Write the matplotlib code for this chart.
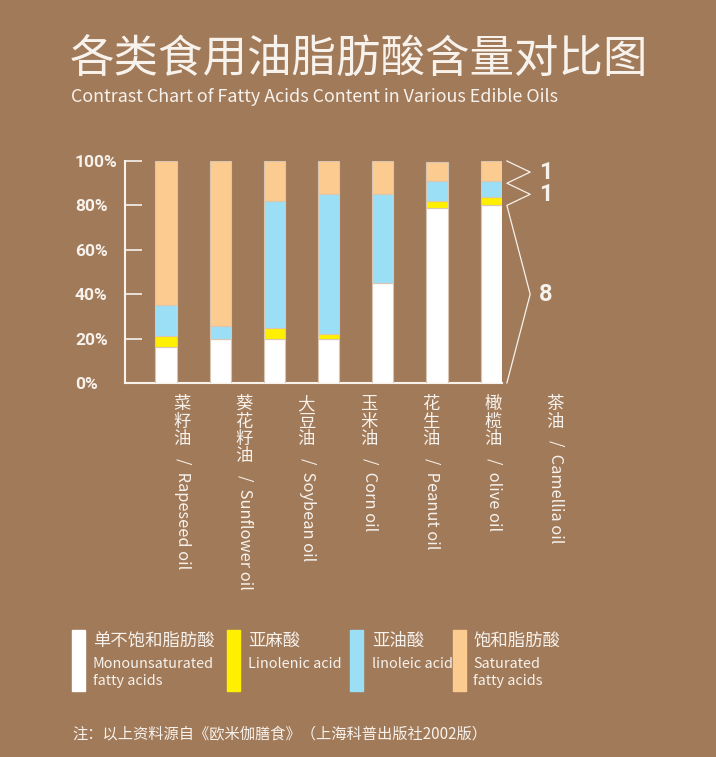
import numpy as np
import matplotlib
matplotlib.use("Agg")
import matplotlib.pyplot as plt
from matplotlib.patches import Rectangle

# data (percent)
oils_cn = ["菜籽油", "葵花籽油", "大豆油", "玉米油", "花生油", "橄榄油", "茶油"]
oils_en = ["Rapeseed oil", "Sunflower oil", "Soybean oil", "Corn oil",
           "Peanut oil", "olive oil", "Camellia oil"]
mono = [16, 20, 20, 20, 45, 79, 80]
linolenic = [5, 0, 5, 2, 0, 3, 4]
linoleic = [14, 5.5, 57, 63, 40, 9, 7]
saturated = [65, 74.5, 18, 15, 15, 8.5, 9]

series_cn = ["单不饱和脂肪酸", "亚麻酸", "亚油酸", "饱和脂肪酸"]
series_en = ["Monounsaturated\nfatty acids", "Linolenic acid", "linoleic acid",
             "Saturated\nfatty acids"]
yticks = [0, 20, 40, 60, 80, 100]
ratio_labels = ["1", "1", "8"]
ratio_y = [95, 85, 40]

BG = "#a17a5a"
FG = "#f7f2ec"
colors = ["#ffffff", "#fff000", "#9bdff6", "#fccb8f"]
CJK = ["Noto Sans CJK SC", "DejaVu Sans"]
NUM = ["Liberation Sans Narrow", "Roboto"]

W, H = 716, 757
fig = plt.figure(figsize=(W / 100, H / 100), dpi=100, facecolor=BG)

def fx(px):
    return px / W

def fy(py):
    return 1 - py / H

ax = fig.add_axes([fx(125), fy(383), fx(502) - fx(125), fy(161) - fy(383)])
ax.set_facecolor(BG)

x = np.arange(len(oils_cn))
bottom = np.zeros(len(x))
for vals, c in zip([mono, linolenic, linoleic, saturated], colors):
    ax.bar(x, vals, width=0.39, bottom=bottom, color=c,
           edgecolor="#d8c6b2", linewidth=0.8, zorder=3)
    bottom += np.array(vals)

ax.set_xlim(-0.756, 6.2)
ax.set_ylim(0, 100)
for s in ["top", "right"]:
    ax.spines[s].set_visible(False)
for s in ["left", "bottom"]:
    ax.spines[s].set_color(FG)
    ax.spines[s].set_linewidth(1.5)
ax.set_xticks([])
ax.set_yticks(yticks)
ax.set_yticklabels([f"{t}%" for t in yticks], family=NUM,
                   fontweight="bold", fontsize=12.5, color=FG, ha="left")
ax.tick_params(axis="y", direction="in", length=12, width=1.2,
               color=FG, pad=36)

# ratio bracket on the right
bx = [6.29, 6.72, 6.29, 6.72, 6.29, 6.72, 6.29]
by = [100, 95, 90, 85, 80, 40, 0]
ax.plot(bx, by, color=FG, linewidth=0.9, clip_on=False)
for lab, yy in zip(ratio_labels, ratio_y):
    ax.text(7.0, yy, lab, family=NUM, fontweight="bold", fontsize=17,
            color=FG, ha="center", va="center", clip_on=False)

# titles
fig.text(fx(70), fy(60), "各类食用油脂肪酸含量对比图", family=CJK,
         fontsize=32, color=FG, va="center", ha="left")
fig.text(fx(71), fy(97), "Contrast Chart of Fatty Acids Content in Various Edible Oils",
         family=CJK, fontsize=12.9, color=FG, va="center", ha="left")

# vertical category labels
for i, (cn, en) in enumerate(zip(oils_cn, oils_en)):
    xc = 182 + 62.2 * i
    for k, ch in enumerate(cn):
        fig.text(fx(xc), fy(395 + 17.5 * k), ch, family=CJK, fontsize=12.5,
                 color=FG, ha="center", va="top")
    fig.text(fx(xc + 1), fy(395 + 17.5 * len(cn) + 10), "/  " + en,
             family=CJK, fontsize=11.8, color=FG, rotation=-90,
             ha="center", va="top")

# legend
sw_x = [72, 227, 350, 453]
tx_x = [93, 248, 372, 473]
for c, sx, tx, cn, en in zip(colors, sw_x, tx_x, series_cn, series_en):
    fig.patches.append(Rectangle((fx(sx), fy(691)), fx(13), fy(630) - fy(691),
                                 transform=fig.transFigure, color=c))
    fig.text(fx(tx), fy(641), cn, family=CJK, fontsize=12.5, color=FG,
             ha="left", va="center")
    fig.text(fx(tx), fy(657), en, family=CJK, fontsize=10.4, color=FG,
             ha="left", va="top", linespacing=1.25)

fig.text(fx(72), fy(735), "注：以上资料源自《欧米伽膳食》（上海科普出版社2002版）",
         family=CJK, fontsize=11, color=FG, ha="left", va="center")

fig.savefig("out.png", dpi=100, facecolor=BG)
